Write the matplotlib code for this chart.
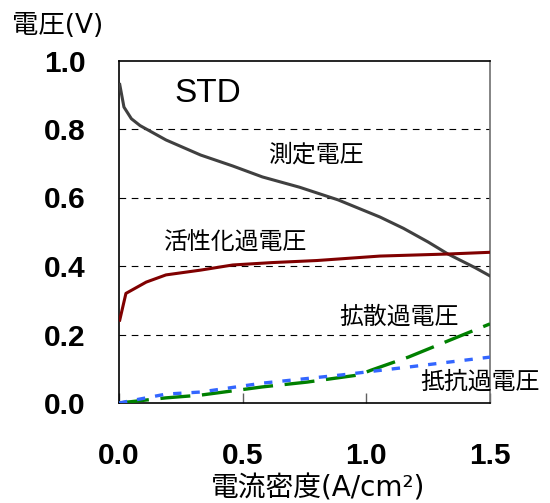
import matplotlib
matplotlib.use("Agg")
import matplotlib.pyplot as plt

# Data
meas_x = [0.003, 0.02, 0.05, 0.085, 0.19, 0.33, 0.46, 0.58, 0.73, 0.886, 1.055, 1.15, 1.25, 1.33, 1.44, 1.5]
meas_y = [0.93, 0.864, 0.83, 0.81, 0.768, 0.724, 0.692, 0.66, 0.63, 0.593, 0.543, 0.51, 0.47, 0.435, 0.395, 0.371]

act_x = [0.003, 0.028, 0.11, 0.19, 0.33, 0.46, 0.62, 0.8, 1.055, 1.33, 1.5]
act_y = [0.242, 0.32, 0.353, 0.374, 0.388, 0.403, 0.41, 0.416, 0.429, 0.435, 0.44]

diff_x = [0.0, 0.19, 0.33, 0.58, 0.76, 0.97, 1.02, 1.17, 1.37, 1.5]
diff_y = [0.0, 0.015, 0.023, 0.047, 0.061, 0.082, 0.096, 0.134, 0.193, 0.231]

res_x = [0.0, 0.19, 0.33, 0.58, 0.9, 1.17, 1.5]
res_y = [0.0, 0.026, 0.032, 0.058, 0.082, 0.105, 0.134]

xticks = [0.0, 0.5, 1.0, 1.5]
xtick_labels = ["0.0", "0.5", "1.0", "1.5"]
yticks = [0.0, 0.2, 0.4, 0.6, 0.8, 1.0]
ytick_labels = ["0.0", "0.2", "0.4", "0.6", "0.8", "1.0"]
grid_levels = [0.2, 0.4, 0.6, 0.8]

JP = ["Noto Sans CJK JP", "DejaVu Sans"]
MIX = ["DejaVu Sans", "Noto Sans CJK JP"]

fig = plt.figure(figsize=(5.5, 5.03), dpi=100)
ax = fig.add_axes([119/550, 1 - 403/503, (490 - 119)/550, (403 - 60.5)/503])

for g in grid_levels:
    ax.axhline(g, color="black", lw=0.8, ls=(0, (6, 5)), zorder=1)

ax.plot(meas_x, meas_y, color="#404040", lw=2.2, zorder=3)
ax.plot(act_x, act_y, color="#800000", lw=2.2, zorder=3)
ax.plot(diff_x, diff_y, color="#008000", lw=2.4, ls=(0, (9, 3.5)), zorder=3)
ax.plot(res_x, res_y, color="#3366FF", lw=2.4, ls=(0, (2.5, 3)), zorder=3)

ax.set_xlim(0, 1.5)
ax.set_ylim(0, 1.0)

ax.set_xticks(xticks)
ax.set_xticklabels(xtick_labels, fontfamily="Liberation Sans", fontweight="bold", fontsize=21.5)
ax.set_yticks(yticks)
ax.set_yticklabels(ytick_labels, fontfamily="Liberation Sans", fontweight="bold", fontsize=21.5)
ax.tick_params(axis="x", direction="in", length=7.5, width=1, color="#606060", pad=28)
ax.tick_params(axis="y", length=0, pad=24)

for s in ["left", "bottom", "top"]:
    ax.spines[s].set_color("black")
    ax.spines[s].set_linewidth(1.2)
ax.spines["right"].set_color("#707070")
ax.spines["right"].set_linewidth(1.2)

ax.text(0.226, 0.905, "STD", fontfamily="Liberation Sans", fontsize=24, va="center", ha="left")
ax.text(0.797, 0.724, "測定電圧", family=JP, fontsize=17.2, va="center", ha="center")
ax.text(0.469, 0.467, "活性化過電圧", family=JP, fontsize=17.2, va="center", ha="center")
ax.text(1.132, 0.251, "拡散過電圧", family=JP, fontsize=17.2, va="center", ha="center")
ax.text(1.46, 0.061, "抵抗過電圧", family=JP, fontsize=17.2, va="center", ha="center")

fig.text(12/550, 1 - 33/503, "電圧(V)", family=MIX, fontsize=19, va="baseline", ha="left")
fig.text(318/550, 1 - 497/503, "電流密度(A/cm²)", family=MIX, fontsize=20, va="baseline", ha="center")

fig.savefig("out.png", dpi=100)
